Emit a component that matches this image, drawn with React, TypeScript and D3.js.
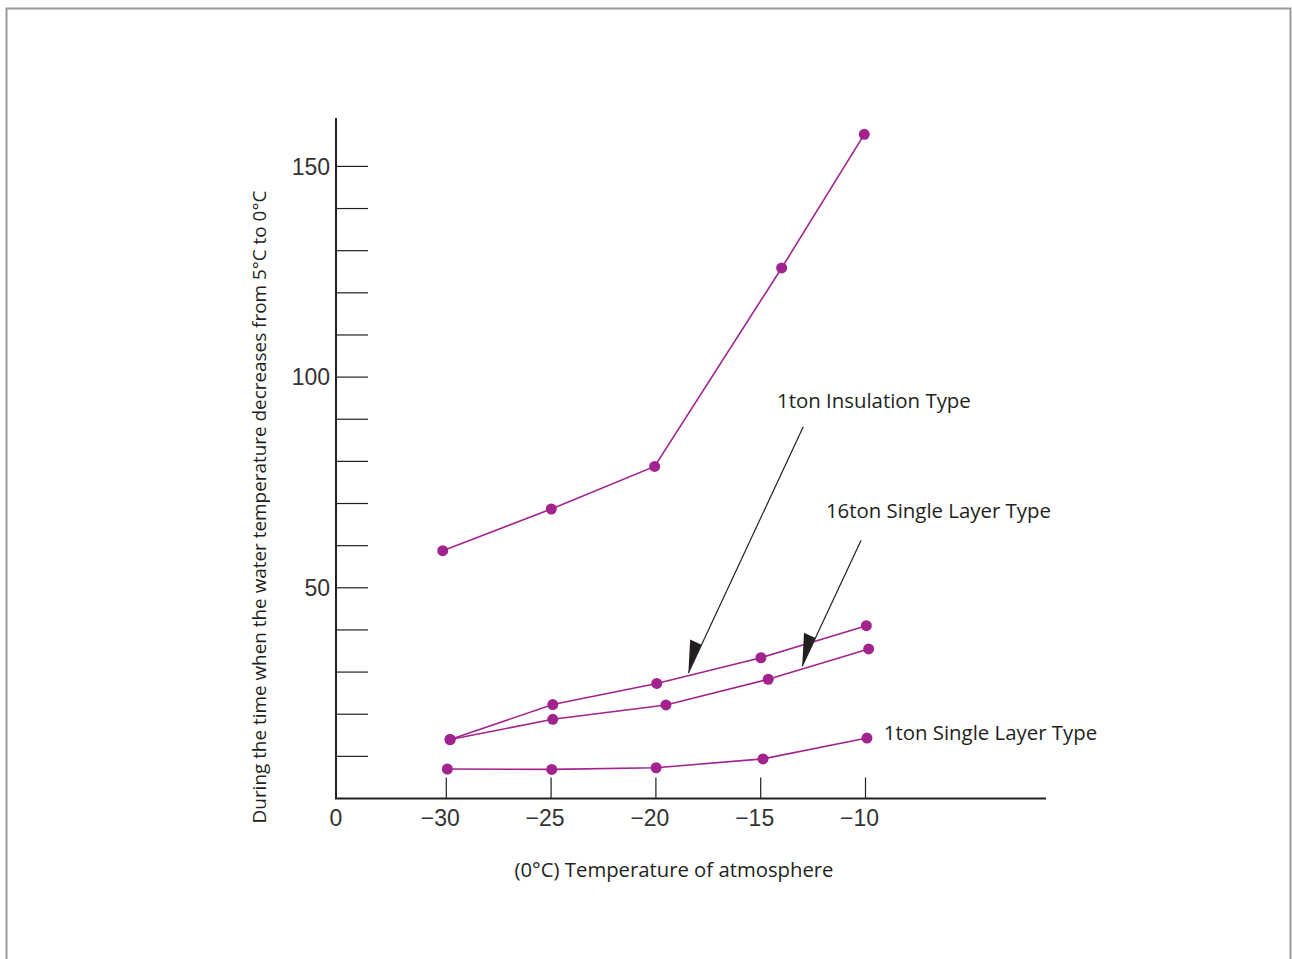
import React from "react";
import * as d3 from "d3";

// ---- data ----
const seriesTop_x = [-30.17, -24.99, -20.06, -14.0, -10.06];
const seriesTop_y = [58.8, 68.7, 78.8, 125.9, 157.6];

const insulation1_x = [-29.82, -24.92, -19.96, -14.99, -9.96];
const insulation1_y = [14.0, 22.3, 27.3, 33.4, 41.0];

const single16_x = [-29.82, -24.92, -19.52, -14.64, -9.85];
const single16_y = [14.0, 18.8, 22.2, 28.3, 35.5];

const single1_x = [-29.95, -24.97, -19.99, -14.89, -9.93];
const single1_y = [7.0, 6.9, 7.3, 9.4, 14.35];

const xTicks = [-30, -25, -20, -15, -10];
const xTickLabels = ["\u221230", "\u221225", "\u221220", "\u221215", "\u221210"];
const yTicks = [10, 20, 30, 40, 50, 60, 70, 80, 90, 100, 110, 120, 130, 140, 150];
const yLabelTicks = [50, 100, 150];

const labelNames = ["1ton Insulation Type", "16ton Single Layer Type", "1ton Single Layer Type"];
const labelX = [-14.22, -11.89, -9.13];
const labelY = [92.6, 66.6, 13.87];

const arrowFromX = [-12.97, -10.21];
const arrowFromY = [88.2, 61.3];
const arrowToX = [-18.45, -13.02];
const arrowToY = [29.8, 31.4];

const xTitle = "(0\u00b0C) Temperature of atmosphere";
const yTitle = "During the time when the water temperature decreases from 5\u00b0C to 0\u00b0C";

const W = 1292;
const H = 959;
const PURPLE = "#a2238e";
const INK = "#231f20";
const HUMAN = "'Open Sans', 'Noto Sans', sans-serif";
const HELV = "'Liberation Sans', Arial, sans-serif";

export default function App() {
  const x = d3.scaleLinear().domain([-30, -10]).range([446.3, 865.5]);
  const y = d3.scaleLinear().domain([0, 100]).range([798.5, 377.1]);

  const x0 = x.invert(336);
  const xEnd = x.invert(1046);
  const yTop = y.invert(118);

  const series = [
    { xs: seriesTop_x, ys: seriesTop_y },
    { xs: insulation1_x, ys: insulation1_y },
    { xs: single16_x, ys: single16_y },
    { xs: single1_x, ys: single1_y },
  ];

  const line = d3
    .line<[number, number]>()
    .x((d) => x(d[0]))
    .y((d) => y(d[1]));

  const arrows = arrowFromX.map((fx, i) => {
    const sx = x(fx), sy = y(arrowFromY[i]);
    const tx = x(arrowToX[i]), ty = y(arrowToY[i]);
    const dx = sx - tx, dy = sy - ty;
    const len = Math.hypot(dx, dy);
    const ux = dx / len, uy = dy / len;
    const hl = 31, hw = 12.5;
    const bx = tx + ux * hl, by = ty + uy * hl;
    const cx = bx + uy * hw, cy = by - ux * hw;
    return { sx, sy, tx, ty, bx, by, cx, cy };
  });

  const yMid = (191 + 823) / 2;

  return (
    <svg
      width={W}
      height={H}
      style={{ position: "absolute", left: 0, top: 0, background: "#fff" }}
    >
      <rect x={6.5} y={8.5} width={1284} height={1000} fill="#fff" stroke="#9a9a9a" strokeWidth={2} />

      {/* y ticks */}
      {yTicks.map((t) => (
        <line key={"yt" + t} x1={x(x0)} x2={x(x0) + 32} y1={y(t)} y2={y(t)} stroke={INK} strokeWidth={1.2} />
      ))}
      {yLabelTicks.map((t) => (
        <text
          key={"yl" + t}
          x={x(x0) - 6}
          y={y(t)}
          dy="0.36em"
          textAnchor="end"
          fontFamily={HELV}
          fontSize={23}
          fill="#333"
        >
          {t}
        </text>
      ))}

      {/* x ticks */}
      {xTicks.map((t, i) => (
        <g key={"xt" + t}>
          <line x1={x(t)} x2={x(t)} y1={y(0)} y2={y(0) - 21} stroke={INK} strokeWidth={1.2} />
          <text
            x={x(t) - 6}
            y={825.5}
            textAnchor="middle"
            fontFamily={HELV}
            fontSize={23}
            fill="#333"
          >
            {xTickLabels[i]}
          </text>
        </g>
      ))}
      <text x={x(x0)} y={825.5} textAnchor="middle" fontFamily={HELV} fontSize={23} fill="#333">
        0
      </text>

      {/* axes */}
      <line x1={x(x0)} x2={x(x0)} y1={y(yTop)} y2={y(0)} stroke={INK} strokeWidth={2} />
      <line x1={x(x0) - 1} x2={x(xEnd)} y1={y(0)} y2={y(0)} stroke={INK} strokeWidth={2} />

      {/* series */}
      {series.map((s, i) => {
        const pts: [number, number][] = s.xs.map((v, j) => [v, s.ys[j]]);
        return (
          <g key={"s" + i}>
            <path d={line(pts) || ""} fill="none" stroke={PURPLE} strokeWidth={1.6} />
            {pts.map((p, j) => (
              <circle key={j} cx={x(p[0])} cy={y(p[1])} r={5.5} fill={PURPLE} />
            ))}
          </g>
        );
      })}

      {/* arrows */}
      {arrows.map((a, i) => (
        <g key={"a" + i}>
          <line x1={a.sx} y1={a.sy} x2={a.tx} y2={a.ty} stroke={INK} strokeWidth={1.2} />
          <path d={`M${a.tx},${a.ty}L${a.bx},${a.by}L${a.cx},${a.cy}Z`} fill={INK} />
        </g>
      ))}

      {/* labels */}
      {labelNames.map((n, i) => (
        <text key={"ln" + i} x={x(labelX[i])} y={y(labelY[i])} fontFamily={HUMAN} fontSize={20.4} fill={INK}>
          {n}
        </text>
      ))}

      {/* titles */}
      <text x={674} y={877} textAnchor="middle" fontFamily={HUMAN} fontSize={20.3} fill={INK}>
        {xTitle}
      </text>
      <text
        transform={`translate(266,${yMid}) rotate(-90)`}
        textAnchor="middle"
        fontFamily={HUMAN}
        fontSize={18.9}
        fill={INK}
      >
        {yTitle}
      </text>
    </svg>
  );
}
